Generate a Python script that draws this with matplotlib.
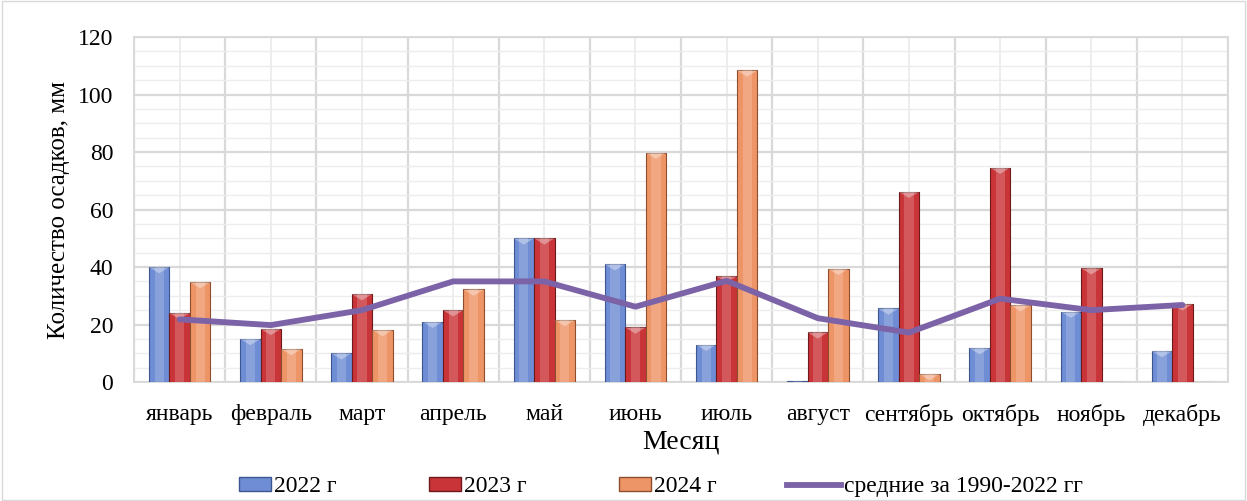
import matplotlib.pyplot as plt
import matplotlib.patches as mpatches
from matplotlib.lines import Line2D
from matplotlib.legend_handler import HandlerPatch
from matplotlib.ticker import MultipleLocator
import numpy as np

plt.rcParams["font.family"] = ["Liberation Serif", "DejaVu Serif"]

months = ["январь", "февраль", "март", "апрель", "май", "июнь", "июль",
          "август", "сентябрь", "октябрь", "ноябрь", "декабрь"]
y2022 = [40, 15, 10, 21, 50, 41, 13, 0.5, 25.6, 11.8, 24.5, 10.8]
y2023 = [24, 18.5, 30.6, 25, 50, 19, 36.8, 17.3, 66.2, 74.6, 39.6, 27.1]
y2024 = [34.8, 11.5, 18.1, 32.2, 21.6, 79.8, 108.4, 39.4, 2.8, 26.8, 0, 0]
avg = [21.8, 19.8, 25, 35, 35, 26.2, 35.2, 22.2, 17.2, 29, 25, 26.8]

series = [
    ("2022 г", y2022, "#6E8DD4", "#3D5690"),
    ("2023 г", y2023, "#C93438", "#6E1A1C"),
    ("2024 г", y2024, "#EE9567", "#8E4E2E"),
]
LINE = "#7C62A6"

fig = plt.figure(figsize=(12.47, 5.01), dpi=100)
ax = fig.add_axes([0.1075, 0.2375, 0.8773, 0.6885])

x = np.arange(len(months))
w = 0.225
for i, (name, vals, col, edge) in enumerate(series):
    pos = x + (i - 1) * w
    vals = np.array(vals)
    ax.bar(pos, vals, w, color=col, edgecolor=edge, linewidth=0.8, zorder=3)
    # lighter inner strip to give the bars a rounded look
    ax.bar(pos, vals, w * 0.45, color="white", alpha=0.18, linewidth=0, zorder=4)
    # small bevel triangle at the top of each bar
    for px, v in zip(pos, vals):
        if v < 2:
            continue
        tri = mpatches.Polygon([[px - w / 2, v], [px + w / 2, v], [px, v - 2.2]],
                               closed=True, color="white", alpha=0.35, lw=0, zorder=5)
        ax.add_patch(tri)

ax.plot(x, avg, color=LINE, linewidth=4.2, solid_capstyle="round", zorder=6)

ax.set_xlim(-0.5, len(months) - 0.5)
ax.set_ylim(0, 120)
ax.yaxis.set_major_locator(MultipleLocator(20))
ax.yaxis.set_minor_locator(MultipleLocator(5))
ax.set_xticks(x)
ax.set_xticklabels(months)
ax.set_xticks(np.arange(-0.5, len(months), 1), minor=True)
ax.tick_params(axis="both", which="both", length=0, labelsize=17)
ax.tick_params(axis="x", pad=16)
ax.tick_params(axis="y", pad=15)

# grid: boundaries between months plus a line through each month center
ax.grid(axis="y", which="major", color="#D9D9D9", linewidth=1.6, zorder=0)
ax.grid(axis="y", which="minor", color="#EDEDED", linewidth=1.0, zorder=0)
ax.grid(axis="x", which="minor", color="#D9D9D9", linewidth=1.6, zorder=0)
ax.grid(axis="x", which="major", color="#EDEDED", linewidth=1.4, zorder=0)
for s in ax.spines.values():
    s.set_color("#D9D9D9")
    s.set_linewidth(1.4)

ax.set_ylabel("Количество осадков, мм", fontsize=18, labelpad=6)
ax.set_xlabel("Месяц", fontsize=20, labelpad=2)


def short_patch(legend, orig_handle, xdescent, ydescent, width, height, fontsize):
    # bar swatches are narrower than the line swatch
    pw = width * 0.6
    return mpatches.Rectangle((width - pw - xdescent, -ydescent), pw, height)


handles = [mpatches.Patch(facecolor=c, edgecolor=e, label=n) for n, _, c, e in series]
handles.append(Line2D([], [], color=LINE, linewidth=4.2, label="средние за 1990-2022 гг"))
fig.legend(handles=handles, loc="lower center", bbox_to_anchor=(0.521, -0.035), ncol=4,
           frameon=False, fontsize=17, handlelength=2.3, handleheight=0.55,
           handletextpad=0.1, columnspacing=3.0,
           handler_map={mpatches.Patch: HandlerPatch(patch_func=short_patch)})

fig.patches.append(mpatches.Rectangle((0.002, 0.002), 0.996, 0.996, transform=fig.transFigure,
                                      fill=False, edgecolor="#D9D9D9", linewidth=1.0))

fig.savefig("out.png", dpi=100)
